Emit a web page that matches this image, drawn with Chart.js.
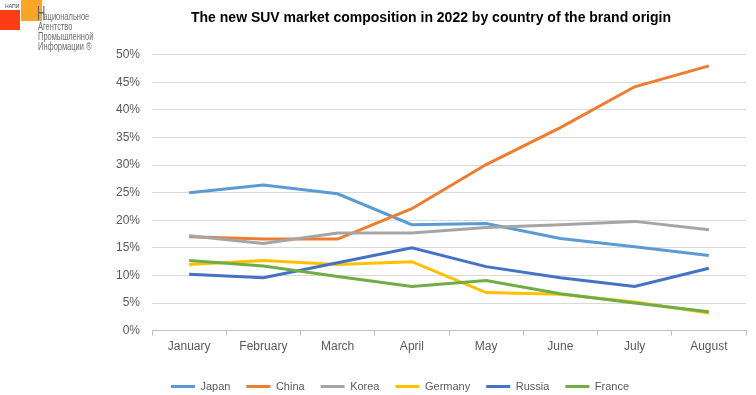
<!DOCTYPE html>
<html>
<head>
<meta charset="utf-8">
<script src="https://cdn.jsdelivr.net/npm/chart.js@4"></script>
<style>
  body { margin: 0; background: #fff; }
  #wrap { position: relative; width: 756px; height: 395px; }
  #logo { position: absolute; left: 0; top: 0; width: 110px; height: 52px; font-family: "Liberation Sans", Arial, sans-serif; color: #6b6b6b; }
  #logo .red { position: absolute; left: 0; top: 10px; width: 20px; height: 20px; background: #ff3d14; }
  #logo .orange { position: absolute; left: 21px; top: 0; width: 21px; height: 21px; background: #f9a526; }
  #logo .tiny { position: absolute; left: 5px; top: 3px; font-size: 6px; color: #444; transform: scaleX(0.85); transform-origin: left top; }
  #logo .bigH { position: absolute; left: 37px; top: 2px; font-size: 21px; line-height: 21px; color: #666; transform: scaleX(0.55); transform-origin: left top; z-index: 2; }
  #logo .txt { position: absolute; left: 38px; top: 11px; font-size: 11px; line-height: 10px; white-space: nowrap; transform: scaleX(0.68); transform-origin: left top; }
</style>
</head>
<body>
<div id="wrap">
  <canvas id="myChart" width="756" height="395"></canvas>
  <div id="logo">
    <div class="red"></div>
    <div class="orange"></div>
    <div class="tiny">НАПИ</div>
    <div class="bigH">Н</div>
    <div class="txt"><span style="padding-left:8px">ациональное</span><br>Агентство<br>Промышленной<br>Информации ®</div>
  </div>
</div>
<script>
const months = ['January', 'February', 'March', 'April', 'May', 'June', 'July', 'August'];
const japan   = [25.0, 26.4, 24.8, 19.2, 19.4, 16.7, 15.2, 13.6];
const china   = [17.0, 16.6, 16.6, 22.1, 30.1, 36.8, 44.2, 48.0];
const korea   = [17.2, 15.8, 17.7, 17.7, 18.7, 19.2, 19.8, 18.3];
const germany = [12.0, 12.7, 12.0, 12.5, 6.9, 6.6, 5.2, 3.2];
const russia  = [10.2, 9.6, 12.3, 15.0, 11.6, 9.6, 8.0, 11.3];
const france  = [12.7, 11.7, 9.8, 8.0, 9.1, 6.7, 5.0, 3.4];

const names = ['Japan', 'China', 'Korea', 'Germany', 'Russia', 'France'];
const series = [japan, china, korea, germany, russia, france];
const colors = ['#5b9bd5', '#ed7d31', '#a5a5a5', '#ffc000', '#4472c4', '#70ad47'];

Chart.defaults.font.family = '"Liberation Sans", Arial, sans-serif';
Chart.defaults.color = '#595959';

// legend in the reference sits left of the title centre and a bit lower
const shiftLegend = {
  id: 'shiftLegend',
  afterLayout(chart) {
    chart.legend.left -= 31;
    chart.legend.right -= 31;
    chart.legend.top += 7;
    chart.legend.bottom += 7;
  }
};

var ctx = document.getElementById('myChart');
new Chart(ctx, {
  type: 'line',
  plugins: [shiftLegend],
  data: {
    labels: months,
    datasets: series.map((s, i) => ({
      label: names[i],
      data: s,
      borderColor: colors[i],
      backgroundColor: colors[i],
      borderWidth: 3,
      pointRadius: 0,
      tension: 0,
      order: 10 - i
    }))
  },
  options: {
    responsive: false,
    animation: false,
    layout: { padding: { left: 116, right: 10, top: 0, bottom: 0 } },
    plugins: {
      title: {
        display: true,
        text: 'The new SUV market composition in 2022 by country of the brand origin',
        color: '#000',
        font: { size: 14, weight: 'bold' },
        padding: { top: 10, bottom: 28 }
      },
      legend: {
        display: true,
        position: 'bottom',
        align: 'center',
        labels: {
          boxWidth: 24,
          boxHeight: 3,
          padding: 16,
          font: { size: 11 },
          sort: (a, b) => a.datasetIndex - b.datasetIndex,
          generateLabels(chart) {
            const items = Chart.defaults.plugins.legend.labels.generateLabels(chart);
            items.forEach(it => { it.lineWidth = 0; });
            return items;
          }
        }
      },
      tooltip: { enabled: false }
    },
    scales: {
      x: {
        offset: true,
        grid: {
          offset: true,
          drawOnChartArea: false,
          drawTicks: true,
          tickLength: 5,
          color: '#bfbfbf'
        },
        border: { color: '#bfbfbf' },
        ticks: { font: { size: 12 }, padding: 4, maxRotation: 0 }
      },
      y: {
        min: 0,
        max: 50,
        afterFit(scale) { scale.width = 36; },
        grid: { color: '#d9d9d9', drawTicks: false },
        border: { display: false },
        ticks: {
          stepSize: 5,
          font: { size: 12 },
          padding: 12,
          callback: v => v + '%'
        }
      }
    }
  }
});
</script>
</body>
</html>
